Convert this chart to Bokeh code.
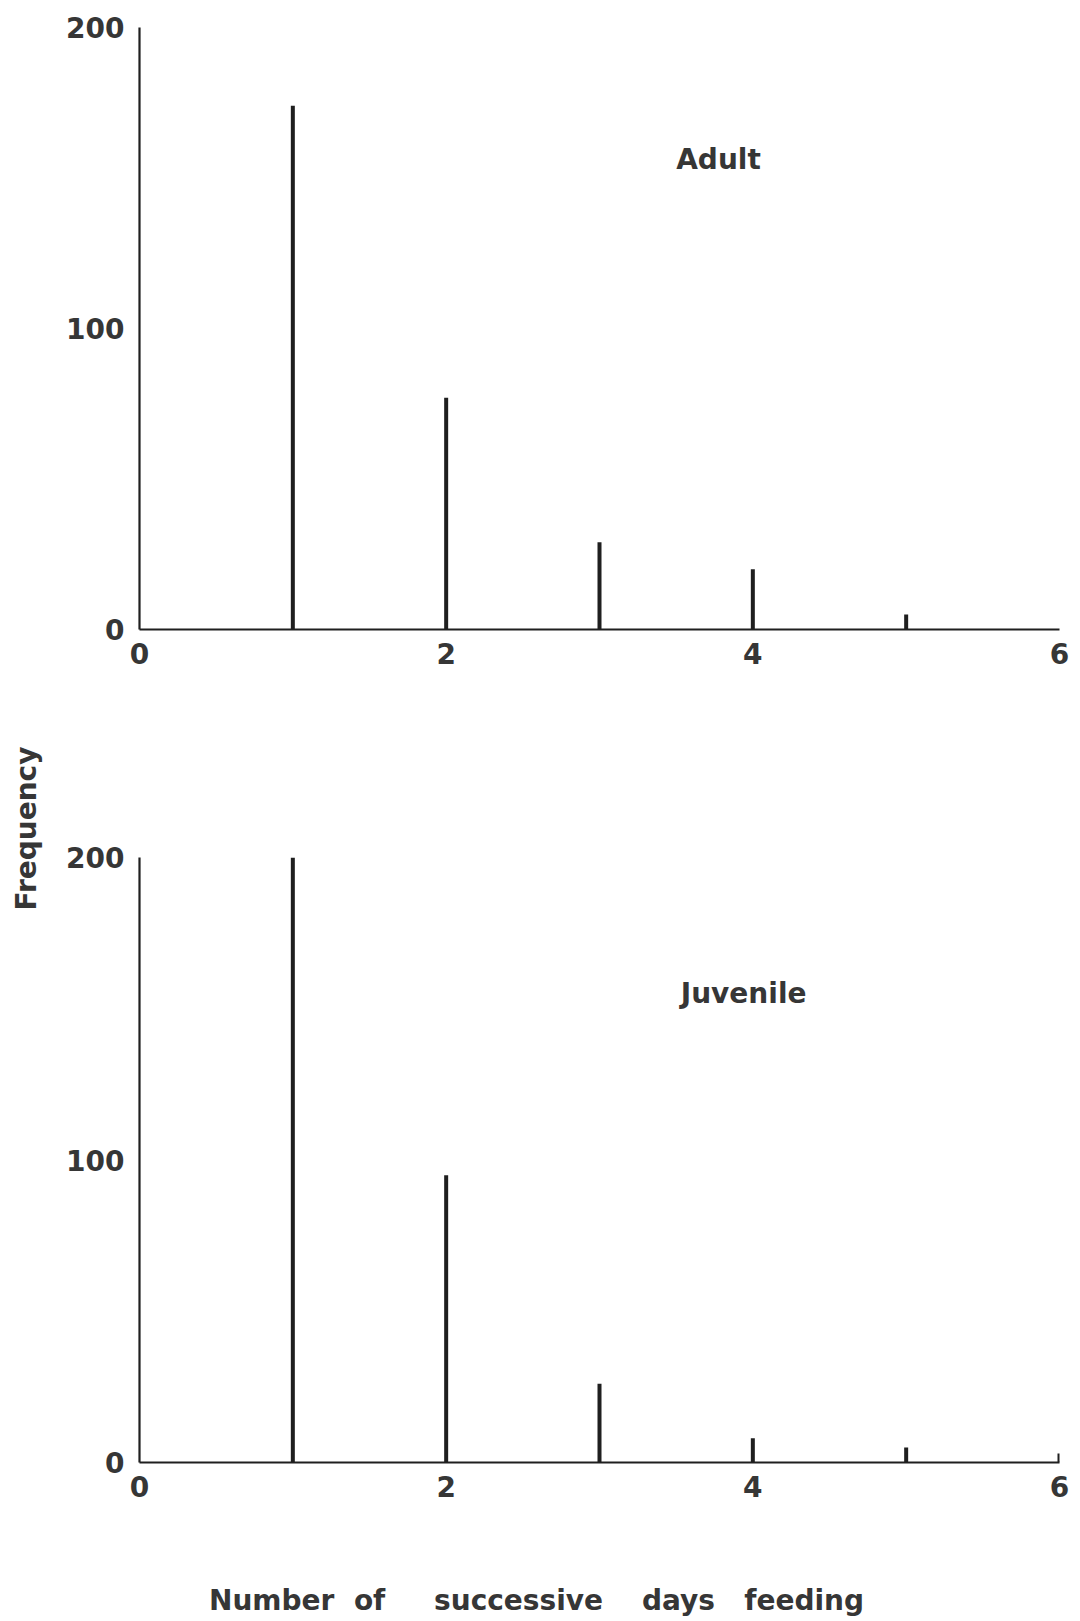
from math import pi

from bokeh.embed import file_html
from bokeh.layouts import column, row
from bokeh.models import FixedTicker, Label, Range1d
from bokeh.plotting import figure
from bokeh.resources import INLINE

# Frequency of runs of successive feeding days
adult_days = [1, 2, 3, 4, 5]
adult_freq = [174, 77, 29, 20, 5]

juvenile_days = [1, 2, 3, 4, 5, 6]
juvenile_freq = [200, 95, 26, 8, 5, 3]

x_ticks = [0, 2, 4, 6]
y_ticks = [0, 100, 200]

FONT = "DejaVu Sans"
SIZE = "28px"
INK = "#1f1f1f"
TEXT = "#363636"
LEFT_STRIP = 60
PANEL_LEFT = 139 - LEFT_STRIP


def blank(width, height):
    """An empty figure used only to hold free-standing text."""
    p = figure(width=width, height=height, x_range=Range1d(0, 1), y_range=Range1d(0, 1),
               min_border=0, output_backend="svg", toolbar_location=None)
    p.axis.visible = False
    p.grid.visible = False
    p.outline_line_color = None
    return p


def text_label(x, y, text, **kw):
    return Label(x=x, y=y, x_units="screen", y_units="screen", text=text,
                 text_font=FONT, text_font_style="bold", text_font_size=SIZE,
                 text_color=TEXT, **kw)


def panel(height, top, bottom, days, freq, name, name_x, name_y):
    p = figure(
        width=1080 - LEFT_STRIP, height=height,
        x_range=Range1d(0, 6), y_range=Range1d(0, 200),
        min_border_left=PANEL_LEFT, min_border_right=21,
        min_border_top=top, min_border_bottom=bottom,
        output_backend="svg", toolbar_location=None,
    )
    p.outline_line_color = None
    p.xgrid.visible = False
    p.ygrid.visible = False

    for ax in (p.xaxis[0], p.yaxis[0]):
        ax.axis_line_color = INK
        ax.axis_line_width = 2.2
        ax.major_tick_line_color = None
        ax.minor_tick_line_color = None
        ax.major_tick_out = 0
        ax.major_tick_in = 0
        ax.major_label_text_font = FONT
        ax.major_label_text_font_style = "bold"
        ax.major_label_text_font_size = SIZE
        ax.major_label_text_color = TEXT
    p.xaxis.ticker = FixedTicker(ticks=x_ticks)
    p.yaxis.ticker = FixedTicker(ticks=y_ticks)
    p.xaxis.major_label_standoff = 13
    p.yaxis.major_label_standoff = 15

    p.segment(x0=days, y0=[0] * len(days), x1=days, y1=freq,
              line_color=INK, line_width=4)

    p.add_layout(Label(x=name_x, y=name_y, text=name,
                       text_font=FONT, text_font_style="bold",
                       text_font_size=SIZE, text_color=TEXT,
                       text_align="left", text_baseline="middle"))
    return p


top = panel(720, 27, 91, adult_days, adult_freq, "Adult", 3.50, 156)
bottom = panel(821, 137, 79, juvenile_days, juvenile_freq, "Juvenile", 3.53, 155)

# shared x-axis title under both panels (its frame lines up with the panels' frames)
nb = "\u00a0"
title = ("Number" + nb * 2 + "of" + nb * 5 + "successive" + nb * 4
         + "days" + nb * 3 + "feeding")
title_strip = blank(1080 - LEFT_STRIP, 80)
title_strip.add_layout(text_label(476 - PANEL_LEFT, 21, title, text_align="center",
                                  text_baseline="middle"))

# shared y-axis title on the left
y_strip = blank(LEFT_STRIP, 1621)
y_strip.add_layout(text_label(26, 793, "Frequency", angle=pi / 2,
                              text_align="center", text_baseline="middle"))

layout = row(y_strip, column(top, bottom, title_strip, spacing=0), spacing=0)

with open("out.html", "w") as f:
    f.write(file_html(layout, INLINE))
